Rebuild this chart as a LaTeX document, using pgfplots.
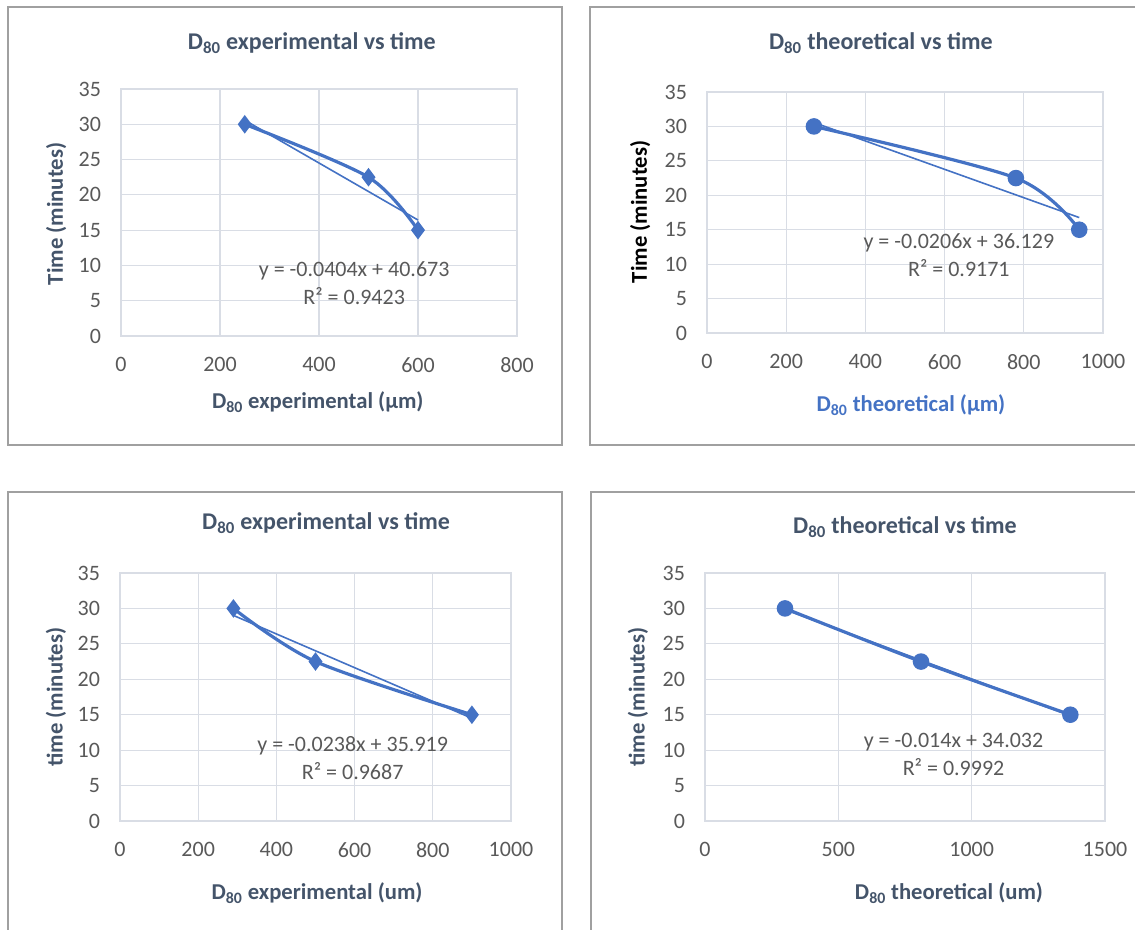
\documentclass[border=0pt]{standalone}
\usepackage{fontspec}
\setmainfont{Carlito}
\usepackage{pgfplots}
\pgfplotsset{compat=1.18}
\definecolor{ser}{HTML}{4472C4}
\definecolor{gridc}{HTML}{D9DDE5}
\definecolor{tickc}{HTML}{595959}
\definecolor{titc}{HTML}{44546A}
\definecolor{bordc}{HTML}{A0A0A0}
\tikzset{eq/.style={font=\fontsize{16.5}{21}\selectfont, color=tickc, align=center, anchor=center}}
\pgfplotsset{
  excel/.style={
    scale only axis, xmin=0, ymin=0, ymax=35, ytick={0,5,...,35},
    grid=major, major grid style={gridc, line width=0.9pt},
    axis line style={gridc, line width=0.9pt},
    tick style={draw=none},
    every axis title shift=0pt,
    /pgf/number format/assume math mode=true,
    /pgf/number format/set thousands separator={},
    tick label style={font=\fontsize{16.5}{18}\selectfont, color=tickc},
    xticklabel style={yshift=-12.5pt},
    yticklabel style={xshift=-11.5pt},
    title style={font=\fontsize{18}{20}\selectfont\bfseries, color=titc, anchor=center},
    xlabel style={font=\fontsize{17}{19}\selectfont\bfseries, color=titc, anchor=center},
    ylabel style={font=\fontsize{17}{19}\selectfont\bfseries, color=titc, anchor=center},
    clip=false,
  },
  ser/.style={color=ser, line width=2.4pt, smooth, tension=0.5},
  trend/.style={color=ser, line width=1.2pt, no marks},
}
\begin{document}
\begin{tikzpicture}
\useasboundingbox (0,0) rectangle (851.25pt,696.75pt);
% chart-area borders
\draw[bordc, line width=1pt] (6pt,363pt) rectangle (421.5pt,691.5pt);
\draw[bordc, line width=1pt] (860pt,691.5pt) -- (442.5pt,691.5pt) -- (442.5pt,363pt) -- (860pt,363pt);
\draw[bordc, line width=1pt] (6pt,-5pt) -- (6pt,327.75pt) -- (421.5pt,327.75pt) -- (421.5pt,-5pt);
\draw[bordc, line width=1pt] (443.25pt,-5pt) -- (443.25pt,327.75pt) -- (860pt,327.75pt);

% Panel 1
\begin{axis}[excel, at={(90.75pt,444.75pt)}, anchor=south west,
  width=297pt, height=185.25pt, xmax=800, xtick={0,200,...,800},
  title={D\textsubscript{80} experimental vs time},
  title style={at={(axis description cs:0.482,1.186)}},
  xlabel={D\textsubscript{80} experimental (µm)},
  xlabel style={at={(axis description cs:0.497,-0.267)}},
  ylabel={Time (minutes)},
  ylabel style={at={(axis description cs:-0.164,0.494)}}]
\addplot[ser, mark=diamond*, mark size=5pt] coordinates {(250,30) (500,22.5) (600,15)};
\addplot[trend] coordinates {(250,30.573) (600,16.433)};
\node[eq] at (axis cs:471,7.5) {y = -0.0404x + 40.673\\R² = 0.9423};
\end{axis}

% Panel 2
\begin{axis}[excel, at={(530.25pt,447pt)}, anchor=south west,
  width=297pt, height=180.75pt, xmax=1000, xtick={0,200,...,1000},
  title={D\textsubscript{80} theoretical vs time},
  title style={at={(axis description cs:0.439,1.203)}},
  xlabel={D\textsubscript{80} theoretical (µm)},
  xlabel style={at={(axis description cs:0.515,-0.299)}, color=ser},
  ylabel={Time (minutes)},
  ylabel style={at={(axis description cs:-0.169,0.502)}, color=black}]
\addplot[ser, mark=*, mark size=5pt] coordinates {(270,30) (780,22.5) (940,15)};
\addplot[trend] coordinates {(270,30.567) (940,16.765)};
\node[eq] at (axis cs:636,11.25) {y = -0.0206x + 36.129\\R² = 0.9171};
\end{axis}

% Panel 3
\begin{axis}[excel, at={(90pt,81pt)}, anchor=south west,
  width=293.25pt, height=186pt, xmax=1000, xtick={0,200,...,1000},
  title={D\textsubscript{80} experimental vs time},
  title style={at={(axis description cs:0.527,1.202)}},
  xlabel={D\textsubscript{80} experimental (um)},
  xlabel style={at={(axis description cs:0.504,-0.290)}},
  ylabel={time (minutes)},
  ylabel style={at={(axis description cs:-0.164,0.5)}}]
\addplot[ser, mark=diamond*, mark size=5pt] coordinates {(290,30) (500,22.5) (900,15)};
\addplot[trend] coordinates {(290,29.017) (900,14.499)};
\node[eq] at (axis cs:595,8.95) {y = -0.0238x + 35.919\\R² = 0.9687};
\end{axis}

% Panel 4
\begin{axis}[excel, at={(528.75pt,81pt)}, anchor=south west,
  width=300pt, height=186pt, xmax=1500, xtick={0,500,...,1500},
  title={D\textsubscript{80} theoretical vs time},
  title style={at={(axis description cs:0.5,1.185)}},
  xlabel={D\textsubscript{80} theoretical (um)},
  xlabel style={at={(axis description cs:0.61,-0.290)}},
  ylabel={time (minutes)},
  ylabel style={at={(axis description cs:-0.1675,0.5)}}]
\addplot[ser, mark=*, mark size=5pt] coordinates {(300,30) (810,22.5) (1370,15)};
\addplot[trend] coordinates {(300,29.832) (1370,14.852)};
\node[eq] at (axis cs:932,9.45) {y = -0.014x + 34.032\\R² = 0.9992};
\end{axis}
\end{tikzpicture}
\end{document}
